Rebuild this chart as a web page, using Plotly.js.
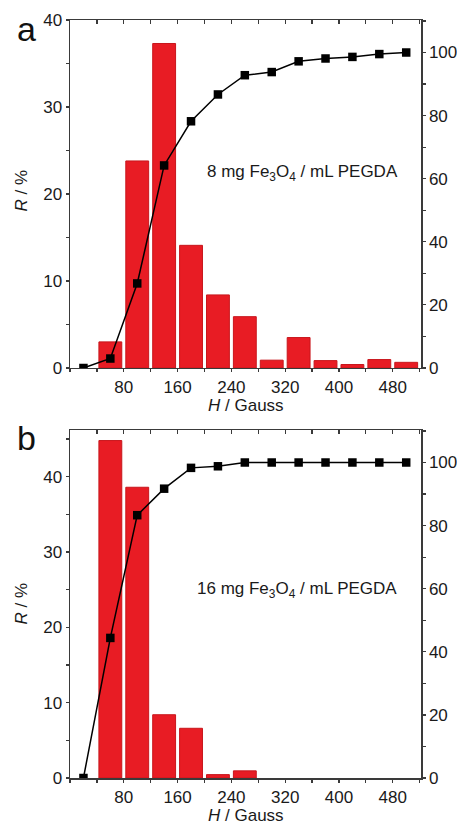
<!DOCTYPE html>
<html>
<head>
<meta charset="utf-8">
<script src="https://cdn.plot.ly/plotly-3.0.1.min.js"></script>
<style>html,body{margin:0;padding:0;background:#fff;}#chart{width:457px;height:824px;}</style>
</head>
<body>
<div id="chart"></div>
<script>
// Field H (Gauss) bin centres for histogram bars and cumulative points
const barFieldA = [60, 100, 140, 180, 220, 260, 300, 340, 380, 420, 460, 500];
const barRatioA = [3.0, 23.8, 37.3, 14.1, 8.4, 5.9, 0.9, 3.5, 0.85, 0.4, 0.97, 0.65];
const cumFieldA = [20, 60, 100, 140, 180, 220, 260, 300, 340, 380, 420, 460, 500];
const cumRatioA = [0, 3.0, 26.8, 64.2, 78.2, 86.7, 92.8, 93.8, 97.2, 98.1, 98.6, 99.5, 100];

const barFieldB = [60, 100, 140, 180, 220, 260];
const barRatioB = [44.8, 38.6, 8.4, 6.6, 0.45, 0.95];
const cumFieldB = [20, 60, 100, 140, 180, 220, 260, 300, 340, 380, 420, 460, 500];
const cumRatioB = [0, 44.4, 83.3, 91.7, 98.3, 98.8, 100, 100, 100, 100, 100, 100, 100];

const xTickVals = [80, 160, 240, 320, 400, 480];
const labelA = '8 mg Fe<sub>3</sub>O<sub>4</sub> / mL PEGDA';
const labelB = '16 mg Fe<sub>3</sub>O<sub>4</sub> / mL PEGDA';

const red = '#e81c24';
const redEdge = '#c8161c';
const axCol = '#3a3a3a';
const fam = 'Liberation Sans, Arial, sans-serif';
const font = {family: fam, size: 17, color: '#1a1a1a'};

function barTrace(x, y, xa, ya) {
  return {type: 'bar', x: x, y: y, xaxis: xa, yaxis: ya, width: 34,
    marker: {color: red, line: {color: redEdge, width: 1}}, hoverinfo: 'skip'};
}
function lineTrace(x, y, xa, ya) {
  return {type: 'scatter', mode: 'lines+markers', x: x, y: y, xaxis: xa, yaxis: ya,
    line: {color: '#000', width: 1.5},
    marker: {symbol: 'square', size: 8.5, color: '#000'}, hoverinfo: 'skip'};
}

const traces = [
  barTrace(barFieldA, barRatioA, 'x', 'y'),
  lineTrace(cumFieldA, cumRatioA, 'x2', 'y2'),
  barTrace(barFieldB, barRatioB, 'x3', 'y3'),
  lineTrace(cumFieldB, cumRatioB, 'x4', 'y4')
];

const baseAx = {showline: true, linecolor: axCol, linewidth: 1.5, showgrid: false, zeroline: false,
  tickcolor: axCol, tickwidth: 1.2, tickfont: font, fixedrange: true};

function xBottom(anchor) {
  return Object.assign({}, baseAx, {anchor: anchor, range: [0, 522], tickmode: 'array', tickvals: xTickVals,
    ticks: 'outside', ticklen: 3,
    minor: {tickmode: 'linear', tick0: 0, dtick: 40, ticks: 'outside', ticklen: 3, tickcolor: axCol}});
}
function xTop(anchor, over) {
  return Object.assign({}, baseAx, {anchor: anchor, overlaying: over, side: 'top', range: [0, 522],
    tickmode: 'linear', tick0: 0, dtick: 40, ticks: 'inside', ticklen: 4, showticklabels: false});
}
function yLeft(domain, anchor, top) {
  return Object.assign({}, baseAx, {domain: domain, anchor: anchor, range: [0, top], tickmode: 'linear', tick0: 0, dtick: 10,
    ticks: 'outside', ticklen: 3,
    minor: {tickmode: 'linear', tick0: 0, dtick: 5, ticks: 'outside', ticklen: 3, tickcolor: axCol}});
}
function yRight(over, anchor) {
  return Object.assign({}, baseAx, {overlaying: over, anchor: anchor, side: 'right', range: [0, 110.3],
    tickmode: 'linear', tick0: 0, dtick: 20, ticks: 'outside', ticklen: 3,
    minor: {tickmode: 'linear', tick0: 0, dtick: 10, ticks: 'outside', ticklen: 3, tickcolor: axCol}});
}

const domA = [0.5409, 1.0];
const domB = [0.0, 0.4591];

const layout = {
  width: 457, height: 824,
  margin: {l: 70, r: 36, t: 20, b: 46, pad: 0},
  paper_bgcolor: '#fff', plot_bgcolor: '#fff',
  showlegend: false, bargap: 0,
  font: font,
  xaxis: xBottom('y'),
  xaxis2: xTop('y', 'x'),
  yaxis: yLeft(domA, 'x', 40),
  yaxis2: yRight('y', 'x'),
  xaxis3: xBottom('y3'),
  xaxis4: xTop('y3', 'x3'),
  yaxis3: yLeft(domB, 'x3', 46.2),
  yaxis4: yRight('y3', 'x3'),
  annotations: [
    {text: 'a', xref: 'paper', yref: 'paper', x: -0.125, y: 0.988, xanchor: 'center', yanchor: 'middle', showarrow: false,
      font: {family: fam, size: 34, color: '#111'}},
    {text: 'b', xref: 'paper', yref: 'paper', x: -0.125, y: 0.449, xanchor: 'center', yanchor: 'middle', showarrow: false,
      font: {family: fam, size: 34, color: '#111'}},
    {text: labelA, xref: 'paper', yref: 'paper', x: 0.661, y: 0.798, xanchor: 'center', yanchor: 'middle', showarrow: false,
      font: {family: fam, size: 17, color: '#1a1a1a'}},
    {text: labelB, xref: 'paper', yref: 'paper', x: 0.647, y: 0.248, xanchor: 'center', yanchor: 'middle', showarrow: false,
      font: {family: fam, size: 17, color: '#1a1a1a'}},
    {text: '<i>R</i> / %', xref: 'paper', yref: 'paper', x: -0.137, y: 0.775, textangle: -90, xanchor: 'center', yanchor: 'middle', showarrow: false,
      font: {family: fam, size: 17, color: '#1a1a1a'}},
    {text: '<i>R</i> / %', xref: 'paper', yref: 'paper', x: -0.137, y: 0.23, textangle: -90, xanchor: 'center', yanchor: 'middle', showarrow: false,
      font: {family: fam, size: 17, color: '#1a1a1a'}},
    {text: '<i>H</i> / Gauss', xref: 'paper', yref: 'paper', x: 0.5, y: 0.491, xanchor: 'center', yanchor: 'middle', showarrow: false,
      font: {family: fam, size: 17, color: '#1a1a1a'}},
    {text: '<i>H</i> / Gauss', xref: 'paper', yref: 'paper', x: 0.5, y: -0.05, xanchor: 'center', yanchor: 'middle', showarrow: false,
      font: {family: fam, size: 17, color: '#1a1a1a'}}
  ]
};

Plotly.newPlot('chart', traces, layout, {staticPlot: true, displayModeBar: false});
</script>
</body>
</html>
